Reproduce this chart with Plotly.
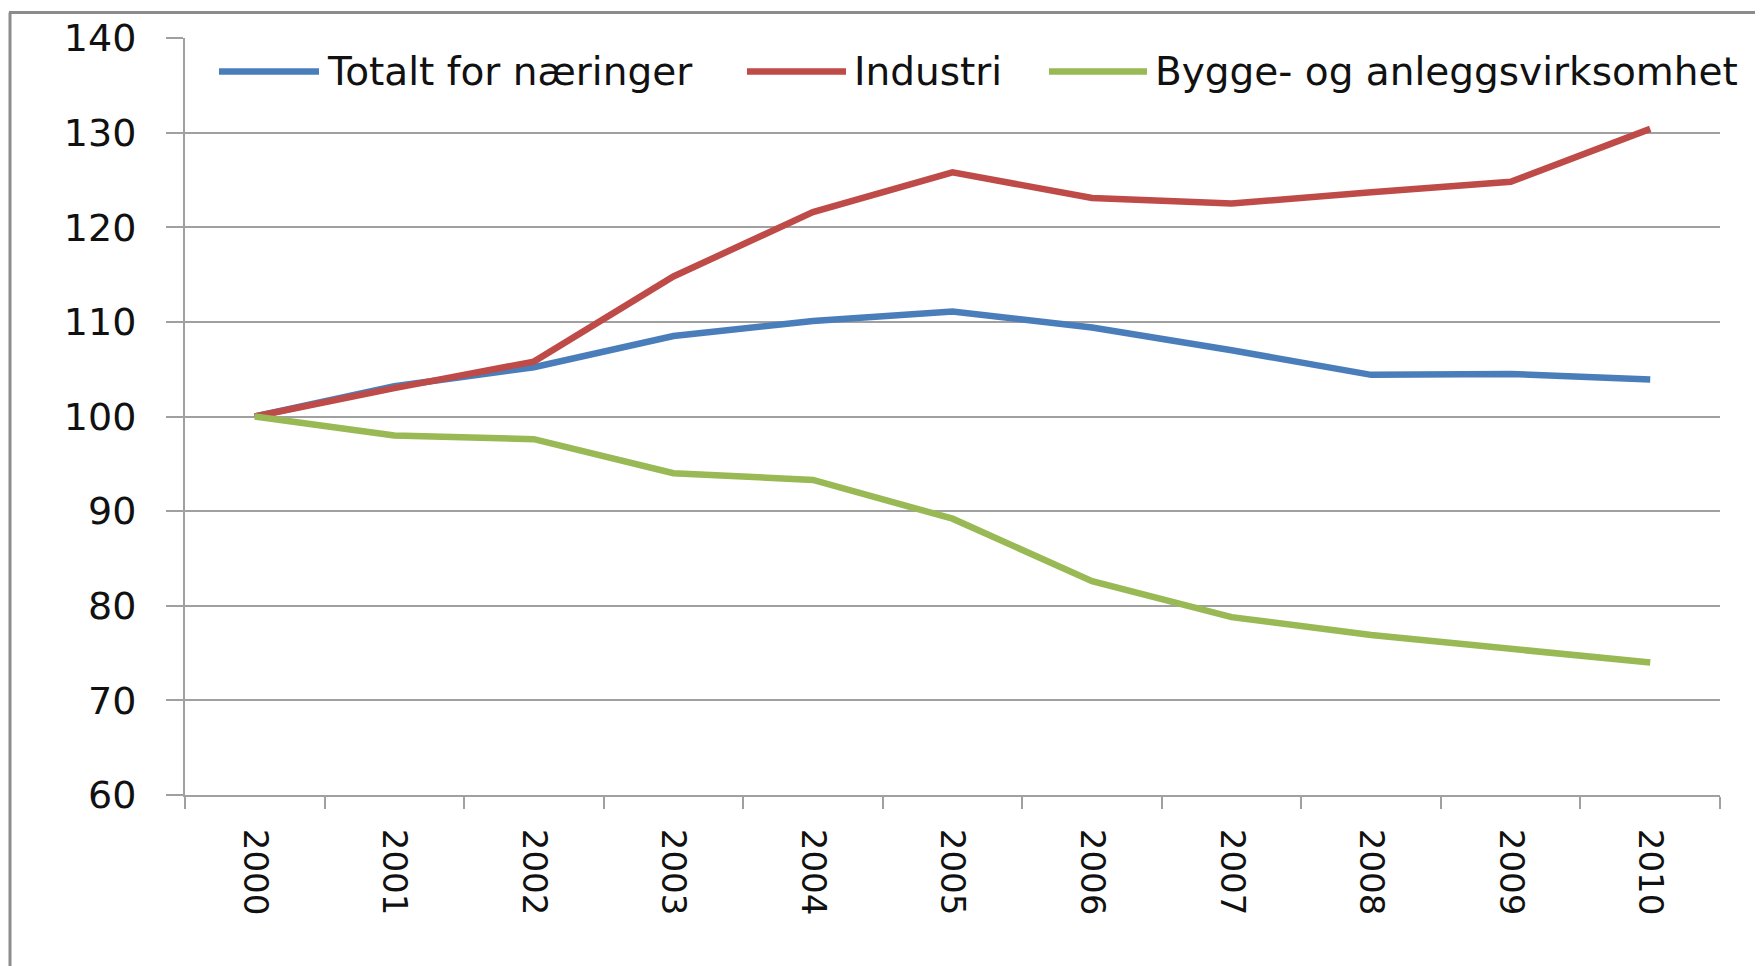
import plotly.graph_objects as go

# ---- data ----
years = ["2000", "2001", "2002", "2003", "2004", "2005", "2006", "2007", "2008", "2009", "2010"]
totalt = [100.0, 103.2, 105.2, 108.5, 110.1, 111.1, 109.4, 107.0, 104.4, 104.5, 103.9]
industri = [100.0, 103.0, 105.8, 114.8, 121.6, 125.8, 123.1, 122.5, 123.7, 124.8, 130.4]
bygge = [100.0, 98.0, 97.6, 94.0, 93.3, 89.2, 82.6, 78.8, 76.9, 75.5, 74.0]

names = ["Totalt for næringer", "Industri", "Bygge- og anleggsvirksomhet"]
colors = ["#4A7EBB", "#BE4B48", "#98B954"]
series = [totalt, industri, bygge]

OFF = 8  # page body margin of the html page
W, H = 1763 - OFF, 966 - OFF
L, R, T, B = 185 - OFF, 1720 - OFF, 37.5 - OFF, 795 - OFF
FONT = "DejaVu Sans"
GRID = "#a0a0a0"

fig = go.Figure()
for nm, col, vals in zip(names, colors, series):
    fig.add_trace(go.Scatter(x=years, y=vals, name=nm, mode="lines",
                             line=dict(color=col, width=6.5), showlegend=False))


def px_x(p):
    return (p - OFF - L) / (R - L)


def px_y(p):
    return (B - (p - OFF)) / (B - T)


shapes = []
annotations = []
# custom legend (long line samples like the original)
legend_items = [(219, 319, 325), (747, 846, 852), (1049, 1147, 1153)]
ly = 71
for (x0, x1, tx), nm, col in zip(legend_items, names, colors):
    shapes.append(dict(type="line", xref="paper", yref="paper",
                       x0=px_x(x0), x1=px_x(x1), y0=px_y(ly), y1=px_y(ly),
                       line=dict(color=col, width=6.5)))
    annotations.append(dict(xref="paper", yref="paper", x=px_x(tx), y=px_y(ly),
                            xanchor="left", yanchor="middle", text=nm, showarrow=False,
                            font=dict(family=FONT, size=39, color="#111111")))

# outer chart border (left and top visible)
shapes.append(dict(type="line", xref="paper", yref="paper",
                   x0=px_x(10), x1=px_x(10), y0=px_y(12), y1=px_y(H + 40),
                   line=dict(color="#8c8c8c", width=3)))
shapes.append(dict(type="line", xref="paper", yref="paper",
                   x0=px_x(9), x1=px_x(W + 40), y0=px_y(12), y1=px_y(12),
                   line=dict(color="#8c8c8c", width=3)))

fig.update_layout(
    width=W, height=H,
    margin=dict(l=L, r=W - R, t=T, b=H - B, pad=0),
    paper_bgcolor="white", plot_bgcolor="white",
    font=dict(family=FONT, color="#111111"),
    shapes=shapes, annotations=annotations,
    showlegend=False,
)
fig.update_xaxes(type="category", range=[-0.5, 10.5], tickson="boundaries",
                 ticks="outside", ticklen=12, tickwidth=2, tickcolor=GRID,
                 showline=True, linecolor=GRID, linewidth=2, showgrid=False,
                 tickangle=90, tickfont=dict(family=FONT, size=34, color="#111111"),
                 ticklabelstandoff=25, automargin=False)
fig.update_yaxes(range=[60, 140], tick0=60, dtick=10, showgrid=True,
                 gridcolor=GRID, gridwidth=2, zeroline=False,
                 ticks="outside", ticklen=17, tickwidth=2, tickcolor=GRID,
                 showline=True, linecolor=GRID, linewidth=2,
                 tickfont=dict(family=FONT, size=38, color="#111111"),
                 ticklabelstandoff=22, automargin=False)

fig.write_html("out.html")
